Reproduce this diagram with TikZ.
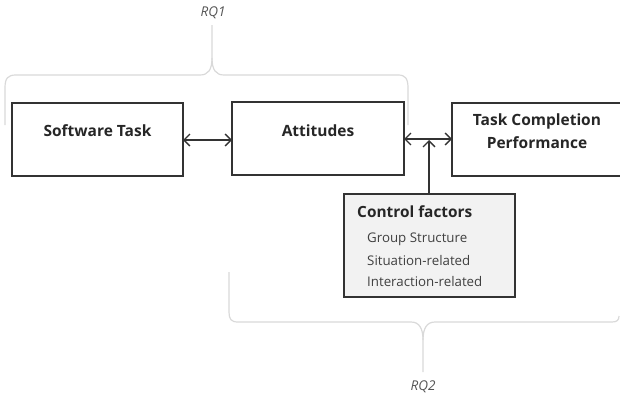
\documentclass[tikz,border=0pt]{standalone}
\usepackage{fontspec}
\setmainfont{Open Sans}
\usetikzlibrary{arrows.meta}
\definecolor{boxline}{HTML}{333333}
\definecolor{bracecol}{HTML}{D9D9D9}
\definecolor{ctrlfill}{HTML}{F2F2F2}
\definecolor{itemcol}{HTML}{404040}
\definecolor{rqcol}{HTML}{555555}
\tikzset{
  mainbox/.style={draw=boxline, line width=1.4pt, inner sep=0pt},
  boxtext/.style={font=\fontsize{15.5}{23}\selectfont\bfseries, text=black!85, align=center},
  itemtext/.style={font=\fontsize{13.3}{15}\selectfont, text=itemcol, anchor=west, inner sep=0pt},
  conn/.style={draw=boxline, line width=1.3pt, {Straight Barb[length=6pt,width=12pt]}-{Straight Barb[length=6pt,width=12pt]}},
  upconn/.style={draw=boxline, line width=1.3pt, -{Straight Barb[length=6pt,width=12pt]}},
  bracepath/.style={draw=bracecol, line width=1.2pt},
  rqtext/.style={font=\fontsize{13.5}{15}\selectfont\itshape, text=rqcol}
}
\begin{document}
\begin{tikzpicture}[x=1pt,y=-1pt]
\useasboundingbox (0,0) rectangle (620,399);
% boxes
\draw[mainbox] (12,103) rectangle (183,176);
\draw[mainbox] (232,102) rectangle (404,175);
\draw[mainbox] (452,103) rectangle (630,176);
\draw[mainbox, fill=ctrlfill] (344,194) rectangle (515,297);
\node[boxtext] (sw) at (97.5,131) {Software Task};
\node[boxtext] (at) at (318,131) {Attitudes};
\node[boxtext] (tc) at (537,131) {Task Completion\\Performance};
% connector anchors
\coordinate (a1) at (183,140);
\coordinate (a2) at (232,140);
\coordinate (b1) at (404,139);
\coordinate (b2) at (452,139);
\coordinate (c1) at (429,194);
\coordinate (c2) at (429,140);
\draw[conn] (a1) -- (a2);
\draw[conn] (b1) -- (b2);
\draw[upconn] (c1) -- (c2);
% control factors text
\node[font=\fontsize{15.4}{18}\selectfont\bfseries, text=black!85, anchor=west, inner sep=0pt] (cf) at (357,212) {Control factors};
\node[itemtext] (i1) at (367,239) {Group Structure};
\node[itemtext] (i2) at (367,261) {Situation-related};
\node[itemtext] (i3) at (367,282) {Interaction-related};
% RQ1 brace
\draw[bracepath] (5,125) -- (5,88) .. controls (5,78) and (8,75) .. (16,75) -- (200,75)
  .. controls (208,75) and (212,70) .. (212,58) -- (212,25);
\draw[bracepath] (212,58) .. controls (212,70) and (216,75) .. (224,75) -- (398,75)
  .. controls (405,75) and (408,78) .. (408,88) -- (408,125);
\node[rqtext] (rq1) at (213,13) {RQ1};
% RQ2 brace
\draw[bracepath] (229,272) -- (229,312) .. controls (229,319) and (231,322) .. (238,322) -- (411,322)
  .. controls (419,322) and (423,328) .. (423,340) -- (423,372);
\draw[bracepath] (423,340) .. controls (423,328) and (427,322) .. (435,322) -- (612,322)
  .. controls (617,322) and (619,320) .. (619,316);
\node[rqtext] (rq2) at (423,387) {RQ2};
\end{tikzpicture}
\end{document}
